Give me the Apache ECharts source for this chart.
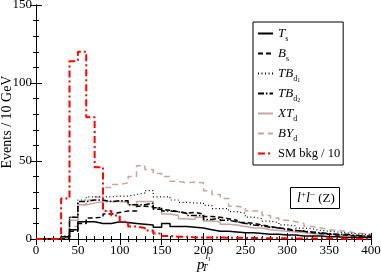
<!DOCTYPE html>
<html><head><meta charset="utf-8">
<script src="https://cdn.jsdelivr.net/npm/echarts@6/dist/echarts.min.js"></script>
<style>html,body{margin:0;padding:0;background:#fff}#c{width:381px;height:278px}</style>
</head><body><div id="c"></div>
<script>
// bin edges (GeV), 10 GeV bins
const binEdges = [0,10,20,30,40,50,60,70,80,90,100,110,120,130,140,150,160,170,180,190,200,210,220,230,240,250,260,270,280,290,300,310,320,330,340,350,360,370,380,390,400];
const xTickLabels = ['0','50','100','150','200','250','300','350','400'];
const yTickLabels = ['0','50','100','150'];

const Ts   = [0,0,0,1.5,6,11,11,10,10,11,10.5,10,9.5,9,7.5,10,8,8,7.5,7,6,5,5,4.5,4,4,3.5,3,3,2.5,2.5,2,2,2,1.5,1.5,1,1,1,1];
const Bs   = [0,0,0,0.5,5,10,13.5,14,16,17,18,18,21,20.5,19,18.5,17.5,16.5,17,16,14.5,14,13,12,10.5,10,9,8,7,6.5,5.5,5,4,3.5,3,2.5,2.5,2,2,1.5];
const TBd1 = [0,0,0,2,14,25,27,27,27,27.5,27.5,28.5,29.5,31,27,27,25,23.5,23,23,21.5,19.5,19.5,17.5,16.5,14,13,11.5,10.5,9,8.5,7,6.5,5.5,5,4.5,4,3.5,3,3];
const TBd2 = [0,0,0,1.5,14,24,25,25,24,24.5,24.5,22,22,23,20,18,17.5,16.5,15,15,12.5,13.5,12,11,10,9,8.5,7.5,7,6,5.5,5,4.5,4,3.5,3,3,2.5,2,2];
const XTd  = [0,0,0,1,12,22,23,24,24,24,23.5,22,24,24,20,16,15,13,12.5,14,11.5,11,9.5,9,8,7,7,6,5.5,5,4.5,4,3.5,3,3,2.5,2,2,1.5,1.5];
const BYd  = [0,0,0,0.5,8,22,25,27,33,35,36,40,47,44.5,42,40,37,36,36.5,36,31,28.5,26,21,20,18,18,15,13.5,12,11,10,8,7,6,5.5,5,4,3.5,3];
const SMbkg10 = [0,0,0,26,114,120,78,46,18,15,11,8,7,5.5,3.5,2,1.5,1.5,1,1,1,1,0.8,0.8,0.7,0.6,0.6,0.5,0.5,0.5,0.4,0.4,0.3,0.3,0.3,0.3,0.2,0.2,0.2,0.2];

const names = ['Ts','Bs','TBd1','TBd2','XTd','BYd','SM'];
const legendText = {
  Ts: '{it|T}{sub|s}',
  Bs: '{it|B}{sub|s}',
  TBd1: '{it|TB}{sub|d}{ss|1}',
  TBd2: '{it|TB}{sub|d}{ss|2}',
  XTd: '{it|XT}{sub|d}',
  BYd: '{it|BY}{sub|d}',
  SM: '{n|SM bkg / 10}'
};
const FF = "'Liberation Serif','Times New Roman',serif";

function steps(vals){ return binEdges.map((x,i)=>[x, vals[Math.min(i, vals.length-1)]]); }
function mk(name, vals, color, width, type, z){
  return {name, type:'line', step:'end', symbol:'none', data: steps(vals), xAxisIndex:0, yAxisIndex:0,
    lineStyle:{color, width, type}, itemStyle:{color}, z, silent:true, animation:false};
}
const pink = '#c9a2a2';
const series = [
  mk('Ts', Ts, '#000', 1.5, 'solid', 5),
  mk('Bs', Bs, '#000', 1.5, [5,3], 5),
  mk('TBd1', TBd1, '#000', 1.2, [1,2.5], 5),
  mk('TBd2', TBd2, '#000', 1.5, [6,2,1.5,2], 5),
  mk('XTd', XTd, pink, 1.5, 'solid', 4),
  mk('BYd', BYd, pink, 1.5, [6,4], 4),
  mk('SM', SMbkg10, '#ff0000', 2, [7,3,2,3], 6)
];

const tickStyle = {color:'#000', width:1};
function xAx(pos, showLabel){
  return {type:'value', min:0, max:400, interval:50, position:pos, gridIndex:0,
    axisLine:{show:true, lineStyle:{color:'#000', width:1}},
    axisTick:{show:true, inside:true, length:6, lineStyle:tickStyle},
    minorTick:{show:true, splitNumber:5, length:3, lineStyle:tickStyle},
    splitLine:{show:false},
    axisLabel:{show:showLabel, color:'#000', fontFamily:FF, fontSize:13, margin:5,
      formatter:(v)=>xTickLabels[Math.round(v/50)]},
    name: showLabel ? '{it|p}{sub|T}{sup|l}{ssup|l}' : '',
    nameLocation:'middle', nameGap:12.5, nameMoveOverlap:false,
    nameTextStyle:{rich:{
      it:{fontFamily:FF, fontStyle:'italic', fontSize:15, color:'#000', verticalAlign:'middle'},
      sub:{fontFamily:FF, fontStyle:'italic', fontSize:10, color:'#000', verticalAlign:'middle', padding:[6,0,0,0], width:1},
      sup:{fontFamily:FF, fontStyle:'italic', fontSize:10, color:'#000', verticalAlign:'middle', padding:[0,0,18,0]},
      ssup:{fontFamily:FF, fontSize:7, color:'#000', verticalAlign:'middle', padding:[0,0,12,0]}
    }}
  };
}
function yAx(pos, showLabel){
  return {type:'value', min:0, max:150, interval:50, position:pos, gridIndex:0,
    axisLine:{show:true, lineStyle:{color:'#000', width:1}},
    axisTick:{show:true, inside:true, length:6, lineStyle:tickStyle},
    minorTick:{show:true, splitNumber:5, length:3, lineStyle:tickStyle},
    splitLine:{show:false},
    axisLabel:{show:showLabel, color:'#000', fontFamily:FF, fontSize:13, margin:4,
      formatter:(v)=>yTickLabels[Math.round(v/50)]},
    name: showLabel ? 'Events / 10 GeV' : '',
    nameLocation:'middle', nameGap:22, nameRotate:90, nameMoveOverlap:false,
    nameTextStyle:{fontFamily:FF, fontSize:14, color:'#000'}
  };
}

const chart = echarts.init(document.getElementById('c'), null, {renderer:'canvas'});
chart.setOption({
  animation:false,
  backgroundColor:'#fff',
  grid:{left:36, top:5, width:335, height:234, containLabel:false, outerBoundsMode:'none'},
  xAxis:[xAx('bottom', true), xAx('top', false)],
  yAxis:[yAx('left', true), yAx('right', false)],
  legend:{
    data: names, orient:'vertical', left:253, top:22,
    padding:[5,3,5,4], itemGap:4, itemWidth:15, itemHeight:10, itemTextGap:6,
    borderColor:'#000', borderWidth:1, backgroundColor:'#fff',
    itemStyle:{opacity:0}, selectedMode:false,
    formatter:(n)=>legendText[n],
    textStyle:{color:'#000', fontFamily:FF, fontSize:12.5, rich:{
      it:{fontFamily:FF, fontStyle:'italic', fontSize:13, color:'#000'},
      sub:{fontFamily:FF, fontSize:8, color:'#000', verticalAlign:'bottom', padding:[11,0,0,0]},
      ss:{fontFamily:FF, fontSize:6, color:'#000', verticalAlign:'bottom', padding:[13,0,0,0]},
      n:{fontFamily:FF, fontSize:12.5, color:'#000', lineHeight:19}
    }}
  },
  title:{
    text:'{i|l}{sup|+}{i|l}{sup|\u2212}{n| (Z)}',
    left:290, top:187, padding:[3,5,3,7],
    borderColor:'#000', borderWidth:1, backgroundColor:'#fff',
    textStyle:{fontWeight:'normal', rich:{
      i:{fontFamily:FF, fontStyle:'italic', fontWeight:'normal', fontSize:14, color:'#000'},
      sup:{fontFamily:FF, fontWeight:'normal', fontSize:9, color:'#000', verticalAlign:'top', padding:[0,0,8,0]},
      n:{fontFamily:FF, fontWeight:'normal', fontSize:13, color:'#000'}
    }}
  },
  series
});
</script></body></html>
